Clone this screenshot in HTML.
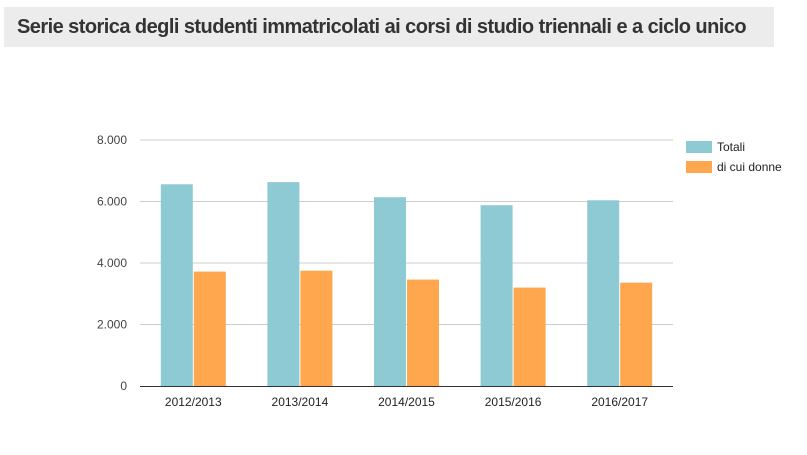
<!DOCTYPE html>
<html><head><meta charset="utf-8"><style>
body{margin:0;width:807px;height:455px;background:#fff;overflow:hidden;position:relative;font-family:"Liberation Sans",sans-serif}
#title{position:absolute;left:4px;top:7px;width:770px;height:40px;background:#ececec}
#title span{position:absolute;left:13px;top:9px;font-size:20px;font-weight:bold;color:#333;letter-spacing:-0.55px;white-space:nowrap}
svg{position:absolute;left:0;top:0}
</style></head><body>
<div id="title"><span>Serie storica degli studenti immatricolati ai corsi di studio triennali e a ciclo unico</span></div>
<svg id="chart" width="807" height="455"></svg>
<script>
const categories=["2012/2013","2013/2014","2014/2015","2015/2016","2016/2017"];
const totali=[6560,6630,6140,5880,6040];
const donne=[3720,3750,3460,3200,3360];
const ticks=[0,2000,4000,6000,8000];
const tickLabels=["0","2.000","4.000","6.000","8.000"];
const seriesNames=["Totali","di cui donne"];
const NS="http://www.w3.org/2000/svg",svg=document.getElementById('chart');
const x0=140,x1=673,y0=386,y1=140,max=8000;
const y=v=>y0-(y0-y1)*v/max;
const bw=(x1-x0)/categories.length;
function el(t,a,txt){const e=document.createElementNS(NS,t);for(const k in a)e.setAttribute(k,a[k]);if(txt!=null)e.textContent=txt;svg.appendChild(e);return e;}
ticks.forEach((t,i)=>{
 if(t>0){const g=el('line',{x1:x0,x2:x1,y1:y(t),y2:y(t),stroke:'#ccc','stroke-width':1});
 
 }
 const l=el('text',{x:127,y:y(t)+4,'text-anchor':'end','font-size':12,fill:'#444'},tickLabels[i]);
 
 
});
const colors=['#8ecad3','#fea74e'];
[totali,donne].forEach((s,si)=>{
 s.forEach((v,i)=>{
  const cx=x0+bw*(i+0.5);
  const r=el('rect',{x:si==0?cx-32.5:cx+0.5,y:y(v),width:32,height:y0-y(v),fill:colors[si]});
  
  
 });
});
const ax=el('line',{x1:x0,x2:x1,y1:y0+0.5,y2:y0+0.5,stroke:'#333','stroke-width':1});


categories.forEach((c,i)=>{
 const t=el('text',{x:x0+bw*(i+0.5),y:406,'text-anchor':'middle','font-size':12,fill:'#222'},c);
 
 
});
seriesNames.forEach((n,i)=>{
 const r=el('rect',{x:686,y:141+i*20,width:26,height:12,fill:colors[i]});
 
 
 const t=el('text',{x:717,y:151+i*20,'font-size':12,fill:'#222'},n);
 
 
});
</script>
</body></html>
